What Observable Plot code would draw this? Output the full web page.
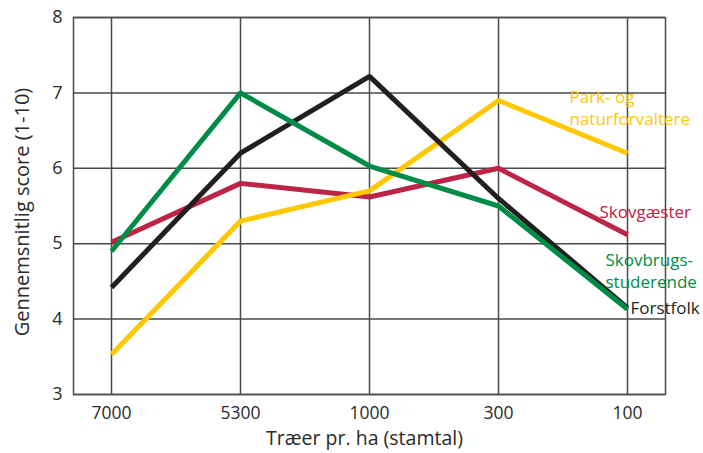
<!DOCTYPE html>
<html>
<head>
<meta charset="utf-8">
<script src="https://cdn.jsdelivr.net/npm/d3@7"></script>
<script src="https://cdn.jsdelivr.net/npm/@observablehq/plot@0.6"></script>
<style>
  html, body { margin: 0; padding: 0; background: #fff; }
</style>
</head>
<body>
<div id="chart"></div>
<script>
const categories = ["7000", "5300", "1000", "300", "100"];
const yTicks = [3, 4, 5, 6, 7, 8];
const skovgaester = [5.02, 5.8, 5.62, 6.0, 5.12];
const parkNatur = [3.53, 5.3, 5.7, 6.9, 6.2];
const forstfolk = [4.42, 6.2, 7.22, 5.6, 4.15];
const skovbrugsStud = [4.9, 7.0, 6.03, 5.5, 4.13];

const seriesNames = ["Skovgæster", "Park- og naturforvaltere", "Forstfolk", "Skovbrugsstuderende"];
const seriesValues = [skovgaester, parkNatur, forstfolk, skovbrugsStud];
const seriesColors = ["#be2444", "#ffc800", "#231f20", "#008c46"];
const seriesLabels = ["Skovgæster", "Park- og\nnaturforvaltere", "Forstfolk", "Skovbrugs-\nstuderende"];

const rows = seriesNames.flatMap((s, i) =>
  categories.map((c, j) => ({series: s, x: c, y: seriesValues[i][j]})));
const ends = seriesNames.map((s, i) => ({series: s, label: seriesLabels[i], x: categories[categories.length - 1], y: seriesValues[i][categories.length - 1]}));

const labelOffsets = {
  "Skovgæster": [-28, -24],
  "Park- og naturforvaltere": [-58, -46],
  "Forstfolk": [3, -1],
  "Skovbrugsstuderende": [-22, -39]
};

const font = "'Open Sans', 'DejaVu Sans', sans-serif";

const chart = Plot.plot({
  width: 703,
  height: 453,
  marginLeft: 73,
  marginRight: 38,
  marginTop: 17,
  marginBottom: 59,
  style: {fontFamily: font, fontSize: "18px", color: "#2a2a2a", background: "#fff"},
  x: {type: "point", domain: categories, padding: 0.29, label: null},
  y: {domain: [3, 8], label: null},
  color: {domain: seriesNames, range: seriesColors},
  marks: [
    Plot.gridY(yTicks, {stroke: "#4a4a4a", strokeOpacity: 1, strokeWidth: 1.5}),
    Plot.gridX(categories, {stroke: "#4a4a4a", strokeOpacity: 1, strokeWidth: 1.5}),
    Plot.frame({stroke: "#4a4a4a", strokeWidth: 1.5}),
    Plot.axisY(yTicks, {tickSize: 0, tickPadding: 11, label: null, fontSize: 18, tickFormat: "d"}),
    Plot.axisX(categories, {tickSize: 0, tickPadding: 12, label: null, fontSize: 17.5}),
    Plot.line(rows, {x: "x", y: "y", z: "series", stroke: "series", strokeWidth: 5, strokeLinejoin: "miter", strokeLinecap: "butt"}),
    ...ends.map(d => Plot.text([d], {
      x: "x", y: "y", text: "label", fill: "series",
      textAnchor: "start", fontSize: 17, lineHeight: 1.3,
      dx: labelOffsets[d.series][0], dy: labelOffsets[d.series][1]
    })),
    Plot.text(["Gennemsnitlig score (1-10)"], {frameAnchor: "left", textAnchor: "middle", rotate: -90, dx: -51, dy: 6, fontSize: 20, fill: "#2a2a2a"}),
    Plot.text(["Træer pr. ha (stamtal)"], {frameAnchor: "bottom", textAnchor: "middle", dx: -5, dy: 50, fontSize: 19.5, fill: "#2a2a2a"})
  ]
});
document.getElementById("chart").appendChild(chart);
</script>
</body>
</html>
